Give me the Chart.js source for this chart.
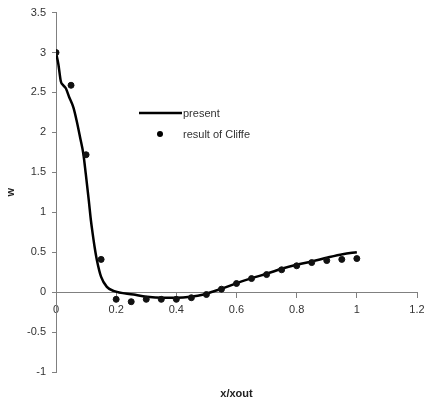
<!DOCTYPE html>
<html>
<head>
<meta charset="utf-8">
<script src="https://cdn.jsdelivr.net/npm/chart.js@4.4.0/dist/chart.umd.min.js"></script>
<style>
body{margin:0;background:#fff;}
#caja{width:424px;height:402px;position:relative;}
</style>
</head>
<body>
<div id="caja"><canvas id="myChart"></canvas></div>
<script>
// curva calculada (present)
let xPresent = [0, 0.008, 0.016, 0.024, 0.033, 0.044, 0.058, 0.069, 0.08, 0.091, 0.099, 0.109, 0.116, 0.122, 0.129, 0.136, 0.15, 0.169, 0.191, 0.258, 0.302, 0.358, 0.402, 0.447, 0.491, 0.52, 0.553, 0.603, 0.651, 0.703, 0.753, 0.803, 0.853, 0.903, 0.953, 1.0];
let wPresent = [3.0, 2.85, 2.64, 2.59, 2.55, 2.44, 2.31, 2.14, 1.94, 1.73, 1.48, 1.15, 0.9, 0.73, 0.55, 0.4, 0.19, 0.066, 0.016, -0.03, -0.058, -0.07, -0.07, -0.058, -0.03, 0.004, 0.046, 0.116, 0.175, 0.233, 0.295, 0.345, 0.387, 0.433, 0.474, 0.5];

// puntos de Cliffe
let xCliffe = [0, 0.05, 0.1, 0.15, 0.2, 0.25, 0.3, 0.35, 0.4, 0.45, 0.5, 0.55, 0.6, 0.65, 0.7, 0.75, 0.8, 0.85, 0.9, 0.95, 1.0];
let wCliffe = [3.0, 2.59, 1.72, 0.41, -0.09, -0.12, -0.09, -0.09, -0.09, -0.07, -0.03, 0.037, 0.108, 0.17, 0.22, 0.28, 0.33, 0.37, 0.395, 0.41, 0.42];

let xTicks = [0, 0.2, 0.4, 0.6, 0.8, 1, 1.2];
let yTicks = [-1, -0.5, 0, 0.5, 1, 1.5, 2, 2.5, 3, 3.5];

let fuente = '"Liberation Sans", Arial, sans-serif';
let colorEje = '#808080';
let colorTexto = '#333333';

function pares(xs, ys){
    let out = [];
    for(i=0; i<xs.length; i++){
        out.push({x: xs[i], y: ys[i]});
    }
    return out;
}

// titulo del eje x y leyenda dibujados a mano
const extras = {
    id: 'extras',
    afterDraw(chart){
        let ctx = chart.ctx;
        let area = chart.chartArea;
        let ds = chart.data.datasets;
        ctx.save();
        ctx.font = 'bold 11px ' + fuente;
        ctx.fillStyle = '#222';
        ctx.textAlign = 'center';
        ctx.textBaseline = 'middle';
        ctx.fillText('x/xout', (area.left + area.right) / 2, 394);

        ctx.strokeStyle = '#000';
        ctx.lineWidth = 2.5;
        ctx.beginPath();
        ctx.moveTo(139, 113);
        ctx.lineTo(182, 113);
        ctx.stroke();
        ctx.fillStyle = '#000';
        ctx.beginPath();
        ctx.arc(160, 134, 3, 0, Math.PI * 2);
        ctx.fill();

        ctx.font = '11px ' + fuente;
        ctx.fillStyle = colorTexto;
        ctx.textAlign = 'left';
        ctx.fillText(ds[0].label, 183, 114);
        ctx.fillText(ds[1].label, 183, 135);
        ctx.restore();
    }
};

const ctx = document.getElementById('myChart').getContext('2d');
const myChart = new Chart(ctx, {
    type: 'scatter',
    data: {
        datasets: [{
            label: 'present',
            data: pares(xPresent, wPresent),
            showLine: true,
            borderColor: '#000',
            borderWidth: 2.5,
            pointRadius: 0,
            cubicInterpolationMode: 'monotone',
            order: 2
        }, {
            label: 'result of Cliffe',
            data: pares(xCliffe, wCliffe),
            backgroundColor: '#111',
            borderColor: '#111',
            pointRadius: 3,
            showLine: false,
            order: 1
        }]
    },
    options: {
        responsive: true,
        maintainAspectRatio: false,
        animation: false,
        layout: { padding: { top: 11, right: 7, bottom: 30, left: 0 } },
        plugins: {
            legend: { display: false },
            tooltip: { enabled: false }
        },
        scales: {
            x: {
                type: 'linear',
                min: 0,
                max: 1.2,
                position: { y: 0 },
                afterBuildTicks: function(scale){
                    scale.ticks = xTicks.map(v => ({value: v}));
                },
                afterFit: function(scale){
                    scale.paddingLeft = 0;
                    scale.paddingRight = 0;
                },
                ticks: {
                    color: colorTexto,
                    font: { family: fuente, size: 11 },
                    padding: 6,
                    maxRotation: 0,
                    autoSkip: false,
                    callback: v => String(v)
                },
                grid: { drawOnChartArea: false, color: colorEje, tickLength: 5 },
                border: { color: colorEje, width: 1 }
            },
            y: {
                type: 'linear',
                min: -1,
                max: 3.5,
                position: 'left',
                afterBuildTicks: function(scale){
                    scale.ticks = yTicks.map(v => ({value: v}));
                },
                afterFit: function(scale){
                    scale.width = 56;
                },
                title: {
                    display: true,
                    text: 'w',
                    color: '#222',
                    font: { family: fuente, size: 11, weight: 'bold' },
                    padding: { top: 4, bottom: 0 }
                },
                ticks: {
                    color: colorTexto,
                    font: { family: fuente, size: 11 },
                    padding: 6,
                    autoSkip: false,
                    callback: v => String(v)
                },
                grid: { drawOnChartArea: false, color: colorEje, tickLength: 4 },
                border: { color: colorEje, width: 1 }
            }
        }
    },
    plugins: [extras]
});
</script>
</body>
</html>
